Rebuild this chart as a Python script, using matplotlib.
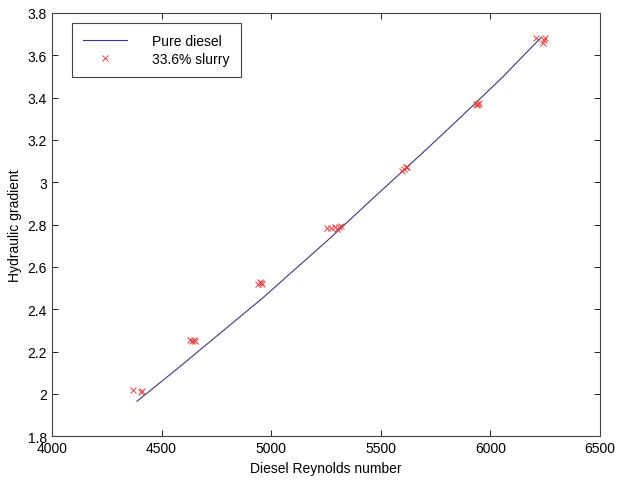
import matplotlib
matplotlib.use("Agg")
import matplotlib.pyplot as plt
from matplotlib.ticker import FormatStrFormatter

# Pure diesel curve
re_diesel = [4388, 4571, 4959, 5269, 5452, 5717, 5863, 6055, 6233]
grad_diesel = [1.965, 2.118, 2.451, 2.736, 2.912, 3.164, 3.306, 3.496, 3.686]

# 33.6% slurry measurements
re_slurry = [4370, 4405, 4412,
             4632, 4640, 4648, 4655,
             4942, 4948, 4953, 4958,
             5255, 5275, 5290, 5300, 5310, 5318,
             5598, 5607, 5614, 5622,
             5935, 5940, 5944, 5950,
             6210, 6238, 6244, 6250]
grad_slurry = [2.02, 2.01, 2.015,
               2.255, 2.25, 2.255, 2.25,
               2.52, 2.53, 2.525, 2.52,
               2.785, 2.785, 2.79, 2.78, 2.79, 2.795,
               3.055, 3.065, 3.07, 3.07,
               3.37, 3.365, 3.37, 3.375,
               3.68, 3.66, 3.67, 3.68]

plt.rcParams['font.family'] = ['Liberation Sans', 'DejaVu Sans']
plt.rcParams['font.size'] = 10

fig = plt.figure(figsize=(6.25, 4.81), dpi=100)
ax = fig.add_axes([0.083, 0.091, 0.877, 0.88])

ax.plot(re_diesel, grad_diesel, color='#3a3a7a', lw=0.8, label='Pure diesel')
ax.plot(re_slurry, grad_slurry, 'x', color='#e04040', ms=4, mew=0.7,
        label='33.6% slurry')

ax.set_xlim(4000, 6500)
ax.set_ylim(1.8, 3.8)
ax.set_xticks([4000, 4500, 5000, 5500, 6000, 6500])
ax.set_yticks([1.8, 2.0, 2.2, 2.4, 2.6, 2.8, 3.0, 3.2, 3.4, 3.6, 3.8])
ax.yaxis.set_major_formatter(FormatStrFormatter('%g'))
ax.tick_params(direction='in', top=True, right=True, length=4, width=0.6,
               labelsize=10)
for s in ax.spines.values():
    s.set_linewidth(0.8)
    s.set_color('#444444')

ax.set_xlabel('Diesel Reynolds number', fontsize=10)
ax.set_ylabel('Hydraulic gradient', fontsize=10)

leg = ax.legend(loc='upper left', fancybox=False, framealpha=1,
                edgecolor='#444444', handlelength=3.2, borderpad=0.8,
                handletextpad=1.8, labelspacing=0.25, fontsize=10,
                borderaxespad=0, bbox_to_anchor=(0.036, 0.976))
leg.get_frame().set_linewidth(0.8)

fig.savefig('out.png', dpi=100)
